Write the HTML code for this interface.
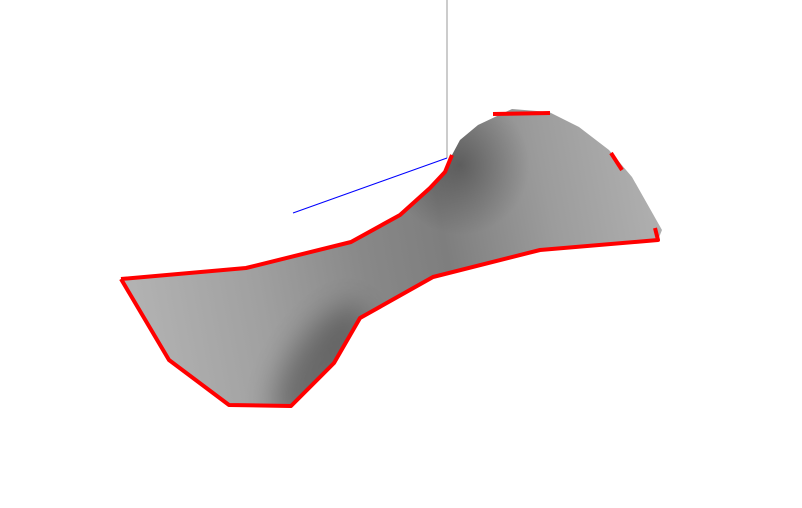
<!DOCTYPE html>
<html><head><meta charset="utf-8"><style>
html,body{margin:0;padding:0;background:#fff;width:802px;height:508px;overflow:hidden}
</style></head><body>
<svg width="802" height="508" viewBox="0 0 802 508" font-family="Liberation Sans, sans-serif">
<defs>
<linearGradient id="g" x1="121" y1="300" x2="660" y2="200" gradientUnits="userSpaceOnUse">
<stop offset="0" stop-color="#b4b4b4"/>
<stop offset="0.25" stop-color="#a0a0a0"/>
<stop offset="0.45" stop-color="#888888"/>
<stop offset="0.6" stop-color="#7e7e7e"/>
<stop offset="0.8" stop-color="#9c9c9c"/>
<stop offset="1" stop-color="#b0b0b0"/>
</linearGradient>
<radialGradient id="d2" cx="460" cy="165" r="70" gradientUnits="userSpaceOnUse">
<stop offset="0" stop-color="#000" stop-opacity="0.3"/>
<stop offset="1" stop-color="#000" stop-opacity="0"/>
</radialGradient>
<filter id="b" x="-50%" y="-50%" width="200%" height="200%"><feGaussianBlur stdDeviation="14"/></filter>
<clipPath id="c"><path d="M121,279 L246,268 L351,242 L400,215 L430,188 L445,172 L452,155 L460,140 L478,125 L512,109 L549,112 L579,127 L609,150 L632,177 L662,230 L658,240 L540,250 L433,277 L360,318 L334,363 L291,406 L229,405 L169,360 Z"/></clipPath>
</defs>
<line x1="447" y1="0" x2="447" y2="158" stroke="#9a9a9a" stroke-width="1"/>
<line x1="293" y1="213" x2="447" y2="158" stroke="#0000ff" stroke-width="1"/>
<g clip-path="url(#c)">
<rect x="100" y="100" width="580" height="320" fill="url(#g)"/>
<ellipse cx="320" cy="365" rx="30" ry="70" transform="rotate(35 320 365)" fill="#000" opacity="0.3" filter="url(#b)"/>
<rect x="100" y="100" width="580" height="320" fill="url(#d2)"/>
</g>
<polyline fill="none" stroke="#ff0000" stroke-width="4" stroke-linejoin="round" points="121,279 246,268 351,242 400,215 430,188 445,172 452,155"/>
<polyline fill="none" stroke="#ff0000" stroke-width="4" stroke-linejoin="round" points="121,279 169,360 229,405 291,406 334,363 360,318 433,277 540,250 658,240 655,228"/>
<line x1="493" y1="114" x2="550" y2="113" stroke="#ff0000" stroke-width="4"/>
<line x1="611" y1="153" x2="622" y2="170" stroke="#ff0000" stroke-width="4"/>
</svg>
</body></html>
